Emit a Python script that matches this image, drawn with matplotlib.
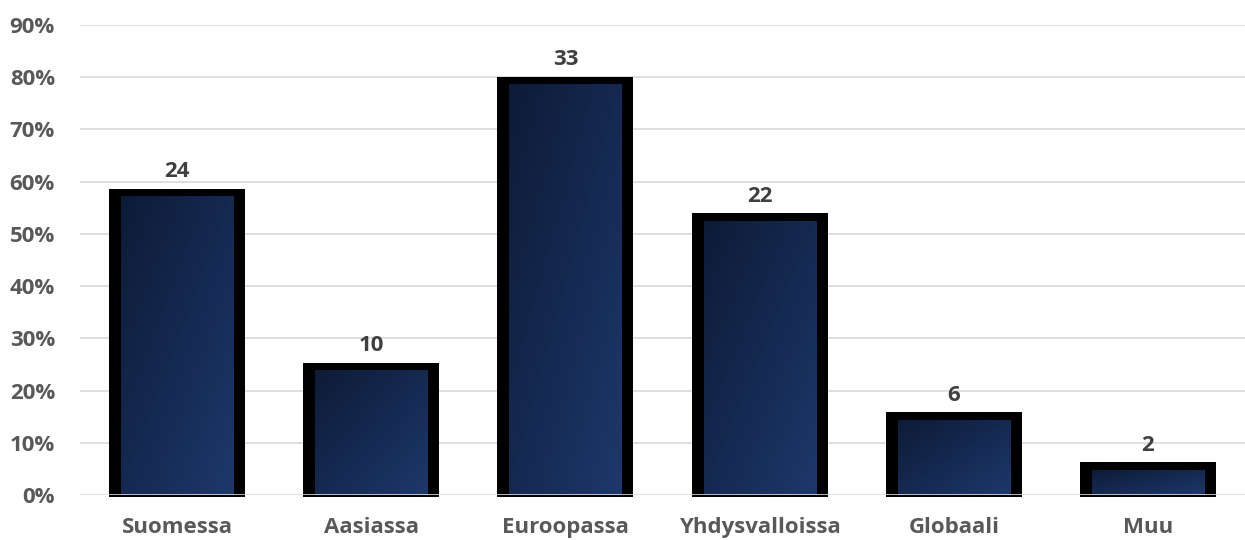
import numpy as np
import matplotlib.pyplot as plt
from matplotlib.colors import LinearSegmentedColormap
from matplotlib.patches import Rectangle

# responses per region (multiple choice), percentage of respondents
categories = ['Suomessa', 'Aasiassa', 'Euroopassa', 'Yhdysvalloissa', 'Globaali', 'Muu']
counts = [24, 10, 33, 22, 6, 2]
respondents = 42
yticks = [0, 10, 20, 30, 40, 50, 60, 70, 80, 90]

pct = [c / respondents * 100 for c in counts]

plt.rcParams['font.family'] = ['Open Sans', 'DejaVu Sans']
plt.rcParams['font.weight'] = 'bold'

fig = plt.figure(figsize=(12.45, 5.4), dpi=100)
ax = fig.add_axes([80 / 1245, 45 / 540, 1165 / 1245, 470 / 540])

inner_w = 0.577
pad_x = 0.062
pad_y = 1.53
navy = LinearSegmentedColormap.from_list('navy', ['#0d1b37', '#1d386b'])
grad = np.add.outer(np.linspace(0, 1, 64), np.linspace(0, 1, 64)) / 2

x = np.arange(len(categories))
for xi, v, c in zip(x, pct, counts):
    # black frame behind the fill
    frame = Rectangle((xi - inner_w / 2 - pad_x, -0.45), inner_w + 2 * pad_x, v + pad_y + 0.45,
                      facecolor='black', edgecolor='none', zorder=2, clip_on=False)
    ax.add_patch(frame)
    # diagonal gradient fill
    ax.imshow(grad, cmap=navy, aspect='auto', zorder=3, interpolation='bicubic',
              extent=(xi - inner_w / 2, xi + inner_w / 2, 0, v), origin='upper')
    ax.annotate(str(c), (xi, v), xytext=(0, 14), textcoords='offset points',
                ha='center', va='baseline', fontsize=16, fontweight='bold', color='#404040')

for t in yticks:
    ax.axhline(t, color='#d9d9d9', lw=1.2, zorder=1 if t else 4)

ax.set_xlim(-0.5, len(categories) - 0.5)
ax.set_ylim(0, 90)
ax.set_xticks(x)
ax.set_xticklabels(categories)
ax.set_yticks(yticks)
ax.set_yticklabels([f'{t}%' for t in yticks])
ax.tick_params(axis='x', length=0, pad=16, labelsize=16, labelcolor='#595959')
ax.tick_params(axis='y', length=0, pad=18, labelsize=16, labelcolor='#595959')
for s in ax.spines.values():
    s.set_visible(False)

fig.savefig('out.png', dpi=100)
